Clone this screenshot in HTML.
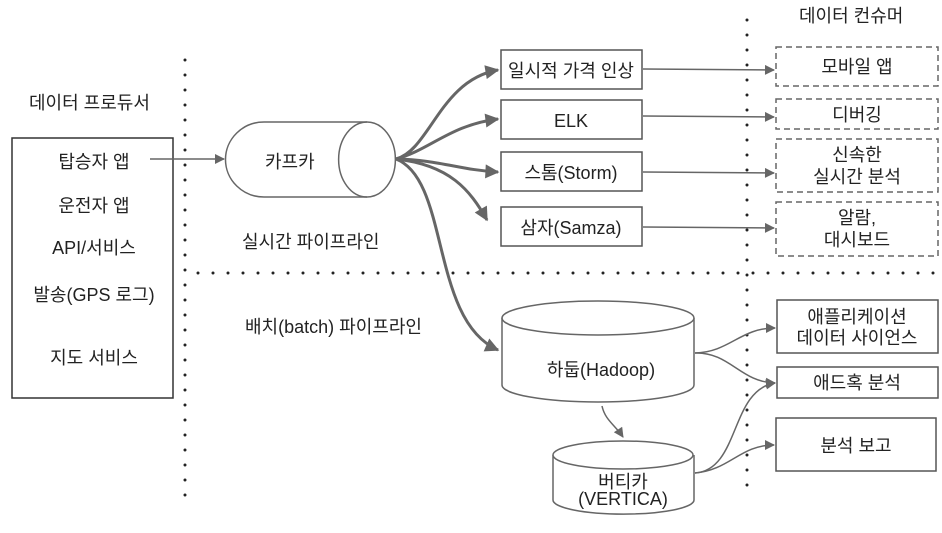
<!DOCTYPE html>
<html><head><meta charset="utf-8"><style>
body{margin:0;background:#fff}
svg text{font-family:"Liberation Sans","Noto Sans CJK KR",sans-serif;font-size:18px;fill:#222}
</style></head><body>
<svg width="942" height="528" viewBox="0 0 942 528" xmlns="http://www.w3.org/2000/svg">
<defs>
<marker id="a" viewBox="0 0 10 10" refX="9" refY="5" markerWidth="11" markerHeight="10" markerUnits="userSpaceOnUse" orient="auto"><path d="M0,0L10,5L0,10z" fill="#666"/></marker>
<marker id="b" viewBox="0 0 10 10" refX="9" refY="5" markerWidth="16" markerHeight="14" markerUnits="userSpaceOnUse" orient="auto"><path d="M0,0L10,5L0,10z" fill="#666"/></marker>
</defs>
<g stroke="#222" stroke-width="3" stroke-dasharray="0 15" stroke-linecap="round">
<line x1="185" y1="60" x2="185" y2="505"/>
<line x1="747" y1="20" x2="747" y2="500"/>
<line x1="198" y1="273" x2="942" y2="273"/>
</g>
<text x="29" y="109">데이터 프로듀서</text>
<text x="799" y="22">데이터 컨슈머</text>
<rect x="12" y="138" width="161" height="260" fill="none" stroke="#333" stroke-width="1.5"/>
<g text-anchor="middle">
<text x="94" y="168">탑승자 앱</text>
<text x="94" y="212">운전자 앱</text>
<text x="94" y="254">API/서비스</text>
<text x="94" y="301">발송(GPS 로그)</text>
<text x="94" y="364">지도 서비스</text>
</g>
<g fill="none" stroke="#666" stroke-width="1.5">
<line x1="150" y1="159" x2="224" y2="159" marker-end="url(#a)"/>
<path d="M264,122H367A28,37 0 0 1 367,197H264A38,37 0 0 1 264,122Z"/>
<path d="M367,122A28,37 0 0 0 367,197"/>
</g>
<text x="265" y="168">카프카</text>
<text x="242" y="248">실시간 파이프라인</text>
<text x="245" y="333">배치(batch) 파이프라인</text>
<g fill="none" stroke="#666" stroke-width="3">
<path d="M396,159C430,150 440,80 498,70" marker-end="url(#b)"/>
<path d="M396,159C430,150 450,125 498,119" marker-end="url(#b)"/>
<path d="M396,159C440,160 460,170 498,172" marker-end="url(#b)"/>
<path d="M396,159C450,165 470,190 487,220" marker-end="url(#b)"/>
<path d="M396,159C450,180 430,320 498,350" marker-end="url(#b)"/>
</g>
<g fill="#fff" stroke="#555" stroke-width="1.5">
<rect x="501" y="50" width="141" height="39"/>
<rect x="501" y="100" width="141" height="39"/>
<rect x="501" y="152" width="141" height="39"/>
<rect x="501" y="207" width="141" height="39"/>
</g>
<g text-anchor="middle">
<text x="571" y="77">일시적 가격 인상</text>
<text x="571" y="127">ELK</text>
<text x="571" y="179">스톰(Storm)</text>
<text x="571" y="234">삼자(Samza)</text>
</g>
<g fill="none" stroke="#666" stroke-width="1.5">
<line x1="643" y1="69" x2="774" y2="70" marker-end="url(#a)"/>
<line x1="643" y1="116" x2="774" y2="117" marker-end="url(#a)"/>
<line x1="643" y1="172" x2="774" y2="173" marker-end="url(#a)"/>
<line x1="643" y1="227" x2="774" y2="228" marker-end="url(#a)"/>
</g>
<g fill="none" stroke="#666" stroke-width="1.5" stroke-dasharray="6 4">
<rect x="776" y="47" width="162" height="39"/>
<rect x="776" y="99" width="162" height="30"/>
<rect x="776" y="139" width="162" height="53"/>
<rect x="776" y="202" width="162" height="54"/>
</g>
<g text-anchor="middle">
<text x="857" y="73">모바일 앱</text>
<text x="857" y="121">디버깅</text>
<text x="857" y="161">신속한</text>
<text x="857" y="183">실시간 분석</text>
<text x="857" y="224">알람,</text>
<text x="857" y="246">대시보드</text>
</g>
<g fill="#fff" stroke="#666" stroke-width="1.5">
<path d="M502,318V385A96,17 0 0 0 694,385V318"/>
<ellipse cx="598" cy="318" rx="96" ry="17"/>
<path d="M553,455V500A70,14 0 0 0 694,500V455"/>
<ellipse cx="623" cy="455" rx="70" ry="14"/>
</g>
<path d="M602,406C605,420 615,425 623,437" fill="none" stroke="#666" stroke-width="1.5" marker-end="url(#a)"/>
<g text-anchor="middle">
<text x="601" y="376">하둡(Hadoop)</text>
<text x="623" y="488">버티카</text>
<text x="623" y="505">(VERTICA)</text>
</g>
<g fill="none" stroke="#666" stroke-width="1.5">
<path d="M695,353C730,352 740,328 775,328" marker-end="url(#a)"/>
<path d="M695,353C730,352 740,382 775,383" marker-end="url(#a)"/>
<path d="M695,473C740,470 730,390 775,383" marker-end="url(#a)"/>
<path d="M695,473C730,470 740,445 774,445" marker-end="url(#a)"/>
</g>
<g fill="#fff" stroke="#555" stroke-width="1.5">
<rect x="777" y="300" width="161" height="53"/>
<rect x="777" y="367" width="161" height="31"/>
<rect x="776" y="418" width="160" height="53"/>
</g>
<g text-anchor="middle">
<text x="857" y="323">애플리케이션</text>
<text x="857" y="344">데이터 사이언스</text>
<text x="857" y="389">애드혹 분석</text>
<text x="856" y="452">분석 보고</text>
</g>
</svg>
</body></html>
